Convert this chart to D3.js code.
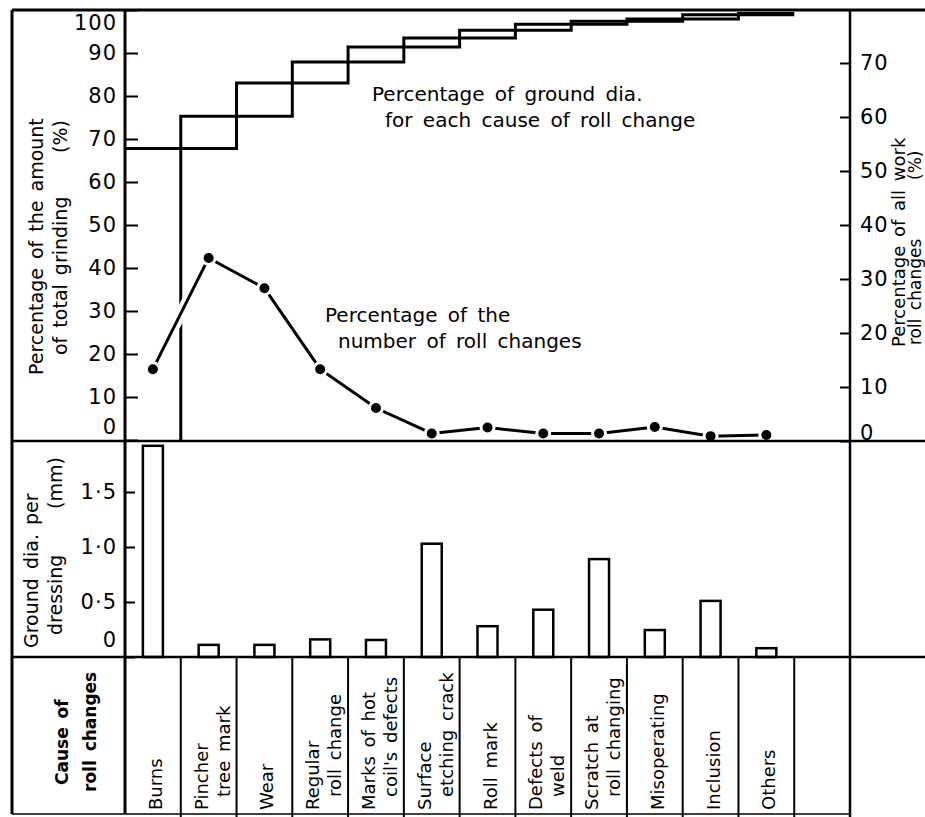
<!DOCTYPE html>
<html>
<head>
<meta charset="utf-8">
<script src="https://cdn.jsdelivr.net/npm/d3@7"></script>
<style>
  body { margin: 0; background: #fff; }
  svg { display: block; font-family: "DejaVu Sans", sans-serif; }
</style>
</head>
<body>
<svg id="chart" width="925" height="817"></svg>
<script>
// causes of roll change (last column of the table is empty)
const causes = ["Burns", "Pincher tree mark", "Wear", "Regular roll change", "Marks of hot coil's defects",
  "Surface etching crack", "Roll mark", "Defects of weld", "Scratch at roll changing", "Misoperating",
  "Inclusion", "Others", ""];
const labelLine1 = ["Burns", "Pincher", "Wear", "Regular", "Marks of hot", "Surface", "Roll mark",
  "Defects of", "Scratch at", "Misoperating", "Inclusion", "Others"];
const labelLine2 = ["", "tree mark", "", "roll change", "coil's defects", "etching crack", "",
  "weld", "roll changing", "", "", ""];

// percentage of the number of roll changes (right axis)
const rollChangePct = [13.3, 33.9, 28.3, 13.3, 6.1, 1.4, 2.5, 1.4, 1.4, 2.6, 0.9, 1.1];
// ground dia. per dressing (mm)
const groundDiaMm = [1.92, 0.11, 0.11, 0.16, 0.155, 1.03, 0.28, 0.43, 0.89, 0.245, 0.51, 0.08];
// cumulative percentage of ground dia., two step curves (each step spans two causes)
const cumStepA = [67.8, 83.0, 91.4, 95.3, 97.4, 98.9];
const cumStepB = [75.3, 87.9, 93.5, 96.7, 97.9, 99.2];

const leftTicks = [0, 10, 20, 30, 40, 50, 60, 70, 80, 90, 100];
const rightTicks = [0, 10, 20, 30, 40, 50, 60, 70];
const barTicks = [0, 0.5, 1.0, 1.5];
const barTickLabels = ["0", "0·5", "1·0", "1·5"];

const svg = d3.select("#chart");
const width = +svg.attr("width");

const frameL = 12, axisL = 125, axisR = 850;
const yTop = 10, mid1 = 441, mid2 = 657, yBottom = 814;

const x = d3.scaleBand().domain(causes).range([axisL, axisR]).padding(0);
const edge = i => x.range()[0] + i * x.step();
const cx = i => x(causes[i]) + x.bandwidth() / 2;

const yL = d3.scaleLinear().domain([0, 100]).range([440, yTop]);
const yR = d3.scaleLinear().domain([0, 70]).range([mid1, 63]);
const yB = d3.scaleLinear().domain([0, 2]).range([mid2, 437]);

// ---- step curves
const stepA = cumStepA.map((v, k) => ({ i: 2 * k, v })).concat([{ i: 12, v: cumStepA[cumStepA.length - 1] }]);
const stepB = [{ i: 1, v: 0 }].concat(cumStepB.map((v, k) => ({ i: 1 + 2 * k, v })))
  .concat([{ i: 12, v: cumStepB[cumStepB.length - 1] }]);
const stepLine = d3.line().x(d => edge(d.i)).y(d => yL(d.v)).curve(d3.curveStepAfter);

[stepA, stepB].forEach(s => {
  svg.append("path").attr("d", stepLine(s))
    .attr("fill", "none").attr("stroke", "#000").attr("stroke-width", 3);
});

// ---- roll change line (white halo makes the gap where it crosses)
const pts = rollChangePct.map((v, i) => [cx(i), yR(v)]);
svg.append("path").attr("d", d3.line()(pts))
  .attr("fill", "none").attr("stroke", "#fff").attr("stroke-width", 11);
svg.append("path").attr("d", d3.line()(pts))
  .attr("fill", "none").attr("stroke", "#000").attr("stroke-width", 3);
svg.selectAll("circle.pt").data(pts).enter().append("circle")
  .attr("class", "pt")
  .attr("cx", d => d[0]).attr("cy", d => d[1]).attr("r", 6.5)
  .attr("fill", "#000").attr("stroke", "#fff").attr("stroke-width", 3);

// ---- bars
svg.selectAll("rect.bar").data(groundDiaMm).enter().append("rect")
  .attr("class", "bar")
  .attr("x", (d, i) => cx(i) - 10)
  .attr("width", 20)
  .attr("y", d => yB(d))
  .attr("height", d => yB(0) - yB(d))
  .attr("fill", "#fff").attr("stroke", "#000").attr("stroke-width", 2.5);

// ---- frame
const frame = [
  [frameL, yTop, width, yTop, 3],
  [frameL, yTop, frameL, yBottom, 3],
  [axisL, yTop, axisL, yBottom, 3],
  [axisR, yTop, axisR, 817, 2.5],
  [frameL, mid1, width, mid1, 2.5],
  [frameL, mid2, width, mid2, 2.5],
  [frameL, yBottom, axisR, yBottom, 1.5]
];
svg.selectAll("line.frame").data(frame).enter().append("line")
  .attr("class", "frame")
  .attr("x1", d => d[0]).attr("y1", d => d[1]).attr("x2", d => d[2]).attr("y2", d => d[3])
  .attr("stroke", "#000").attr("stroke-width", d => d[4]);

svg.selectAll("line.col").data(d3.range(1, 13)).enter().append("line")
  .attr("class", "col")
  .attr("x1", d => edge(d)).attr("x2", d => edge(d))
  .attr("y1", mid2).attr("y2", 817)
  .attr("stroke", "#000").attr("stroke-width", 2);

// ---- axes
const styleAxis = g => {
  g.select(".domain").remove();
  g.selectAll(".tick line").attr("stroke", "#000").attr("stroke-width", 2);
  g.selectAll(".tick text").attr("fill", "#000")
    .attr("font-size", 21).attr("letter-spacing", 1)
    .attr("font-family", "DejaVu Sans, sans-serif");
};

svg.append("g").attr("transform", `translate(${axisL},0)`)
  .call(d3.axisLeft(yL).tickValues(leftTicks).tickSizeInner(-13).tickSizeOuter(0).tickPadding(8))
  .call(styleAxis)
  .call(g => g.selectAll(".tick text")
    .attr("dy", d => d === 100 ? "0.95em" : d === 0 ? "-0.3em" : "0.32em"));

svg.append("g").attr("transform", `translate(${axisR},0)`)
  .call(d3.axisRight(yR).tickValues(rightTicks).tickSizeInner(-10).tickSizeOuter(0).tickPadding(10))
  .call(styleAxis)
  .call(g => g.selectAll(".tick text").attr("dy", d => d === 0 ? "-0.05em" : "0.32em"));

svg.append("g").attr("transform", `translate(${axisL},0)`)
  .call(d3.axisLeft(yB).tickValues(barTicks).tickSizeInner(-10).tickSizeOuter(0).tickPadding(8)
    .tickFormat((d, i) => barTickLabels[i]))
  .call(styleAxis)
  .call(g => g.selectAll(".tick text").attr("dy", d => d === 0 ? "-0.5em" : "0.32em"));

// ---- rotated texts
const vtext = (xPos, yPos, txt, size, weight) =>
  svg.append("text")
    .attr("transform", `translate(${xPos},${yPos}) rotate(-90)`)
    .attr("font-size", size).attr("font-weight", weight || "normal")
    .attr("word-spacing", 3)
    .text(txt);

vtext(43, 375, "Percentage of the amount", 19);
vtext(67, 355, "of total grinding", 19);
vtext(67, 153, "(%)", 19);

vtext(38, 648, "Ground dia. per", 19);
vtext(62, 635, "dressing", 19);
vtext(62, 509, "(mm)", 19);

vtext(905, 347, "Percentage of all work", 18);
vtext(921, 345, "roll changes", 17);
vtext(921, 180, "(%)", 17);

vtext(68, 785, "Cause of", 17, "bold");
vtext(96, 792, "roll changes", 17, "bold");

labelLine1.forEach((t, i) => {
  const two = labelLine2[i] !== "";
  vtext(cx(i) + (two ? -1 : 9), 810, t, 18);
  if (two) vtext(cx(i) + 21, 797, labelLine2[i], 18);
});

// ---- annotations
const note = (xPos, yPos, txt) =>
  svg.append("text").attr("x", xPos).attr("y", yPos)
    .attr("font-size", 20).attr("word-spacing", 4).text(txt);

note(372, 101, "Percentage of ground dia.");
note(385, 127, "for each cause of roll change");
note(325, 322, "Percentage of the");
note(338, 348, "number of roll changes");
</script>
</body>
</html>
